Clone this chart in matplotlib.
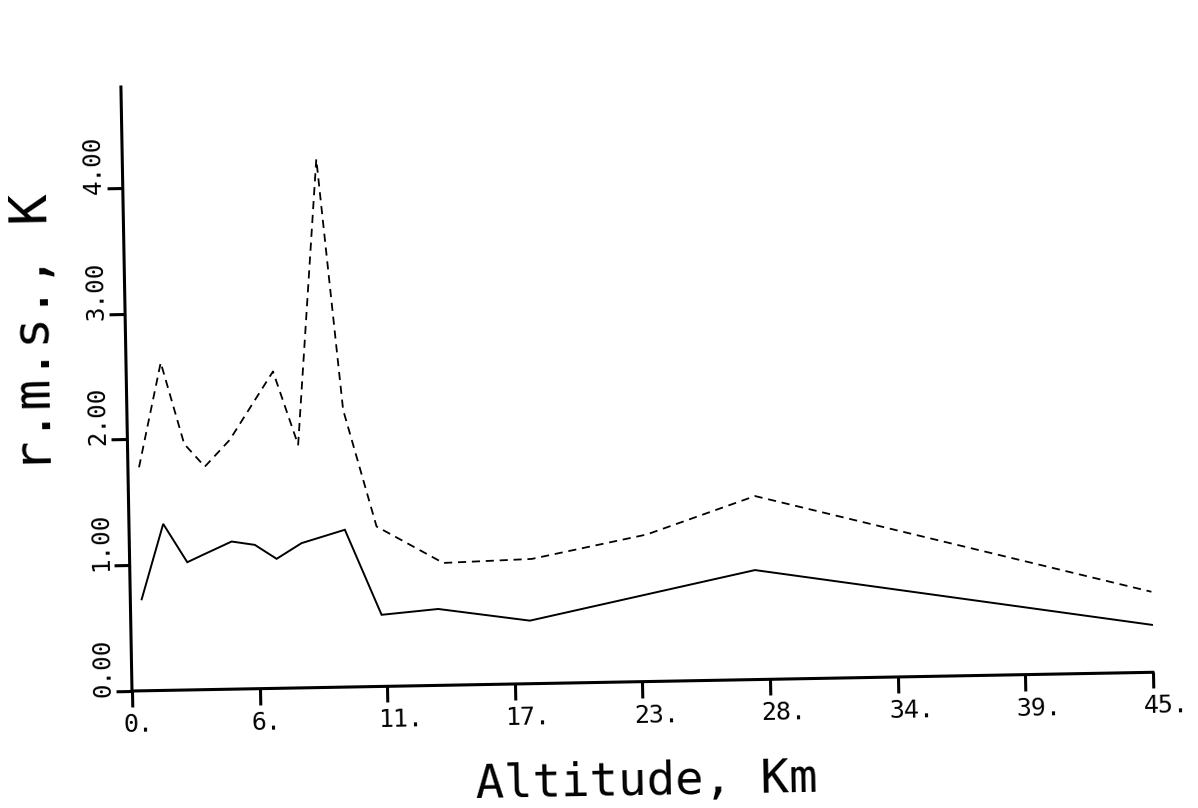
import matplotlib
matplotlib.use("Agg")
import matplotlib.pyplot as plt
from matplotlib.transforms import Affine2D, offset_copy
import mpl_toolkits.axisartist.floating_axes as floating_axes
from mpl_toolkits.axisartist.grid_finder import FixedLocator, DictFormatter

# ---- data (altitude km, r.m.s. K) ----
alt_solid = [0.50, 1.51, 2.54, 3.23, 4.51, 5.53, 6.48, 7.59, 9.51, 11.06, 13.56, 17.59, 27.55, 45.0]
rms_solid = [0.727, 1.323, 1.015, 1.071, 1.173, 1.143, 1.029, 1.150, 1.250, 0.569, 0.607, 0.501, 0.870, 0.377]

alt_dash = [0.49, 1.53, 2.50, 3.39, 4.51, 6.47, 7.52, 8.55, 9.53, 10.91, 13.82, 17.72, 22.80, 27.61, 45.0]
rms_dash = [1.776, 2.605, 1.955, 1.772, 1.981, 2.518, 1.932, 4.199, 2.203, 1.271, 0.972, 0.991, 1.168, 1.458, 0.640]

x_ticks = [0, 5.625, 11.25, 16.875, 22.5, 28.125, 33.75, 39.375, 45]
x_tick_labels = ["0.", "6.", "11.", "17.", "23.", "28.", "34.", "39.", "45."]
y_ticks = [0, 1, 2, 3, 4]
y_tick_labels = ["0.00", "1.00", "2.00", "3.00", "4.00"]
x_label = "Altitude, Km"
y_label = "r.m.s., K"

# ---- layout (pixels) ----
W, H = 1198, 808
ORIGIN = (132, 117)          # axes origin, px from left / bottom
PX_PER_X = 22.69
PX_PER_Y = 125.85
TILT = 1.05                  # the scanned page is slightly rotated
FONT = "DejaVu Sans Mono"

fig = plt.figure(figsize=(W / 100, H / 100), dpi=100)
fig.patch.set_facecolor("white")

tr = Affine2D().scale(PX_PER_X, PX_PER_Y).rotate_deg(TILT)
grid_helper = floating_axes.GridHelperCurveLinear(
    tr, extremes=(0, 45, 0, 4.8),
    grid_locator1=FixedLocator(x_ticks),
    grid_locator2=FixedLocator(y_ticks),
    tick_formatter1=DictFormatter(dict(zip(x_ticks, x_tick_labels))),
    tick_formatter2=DictFormatter(dict(zip(y_ticks, y_tick_labels))),
)
ax = fig.add_axes([0, 0, 1, 1], axes_class=floating_axes.FloatingAxes,
                  grid_helper=grid_helper)
aux = ax.get_aux_axes(tr)

aux.plot(alt_solid, rms_solid, color="black", lw=1.4, solid_joinstyle="miter")
aux.plot(alt_dash, rms_dash, color="black", lw=1.3, dashes=(4.5, 3.2))

ax.set_xlim(-ORIGIN[0], W - ORIGIN[0])
ax.set_ylim(-ORIGIN[1], H - ORIGIN[1])

for side in ["top", "right"]:
    ax.axis[side].set_visible(False)
for side in ["bottom", "left"]:
    a = ax.axis[side]
    a.line.set_linewidth(2.2)
    a.major_ticks.set_tick_out(True)
    a.major_ticks.set_ticksize(11.5)
    a.major_ticks.set_markeredgewidth(2.2)
    a.major_ticklabels.set_visible(False)
    a.label.set_visible(False)

# tick labels, plotter style (start just left of / below the tick)
for xv, lab in zip(x_ticks, x_tick_labels):
    aux.text(xv, 0, lab, family=FONT, fontsize=18, rotation=TILT,
             rotation_mode="anchor", ha="left", va="top",
             transform=offset_copy(aux.transData, fig=fig, x=-9, y=-22, units="dots"))
for yv, lab in zip(y_ticks, y_tick_labels):
    aux.text(0, yv, lab, family=FONT, fontsize=17.5, rotation=90 + TILT,
             rotation_mode="anchor", ha="left", va="baseline",
             transform=offset_copy(aux.transData, fig=fig, x=-22, y=-6, units="dots"))

fig.text(647 / W, (H - 795) / H, x_label, family=FONT, fontsize=34,
         rotation=TILT, rotation_mode="anchor", ha="center", va="baseline")
fig.text(49.5 / W, (H - 332) / H, y_label, family=FONT, fontsize=37,
         rotation=90 + TILT, rotation_mode="anchor", ha="center", va="baseline")

fig.savefig("out.png", dpi=100, facecolor="white")
